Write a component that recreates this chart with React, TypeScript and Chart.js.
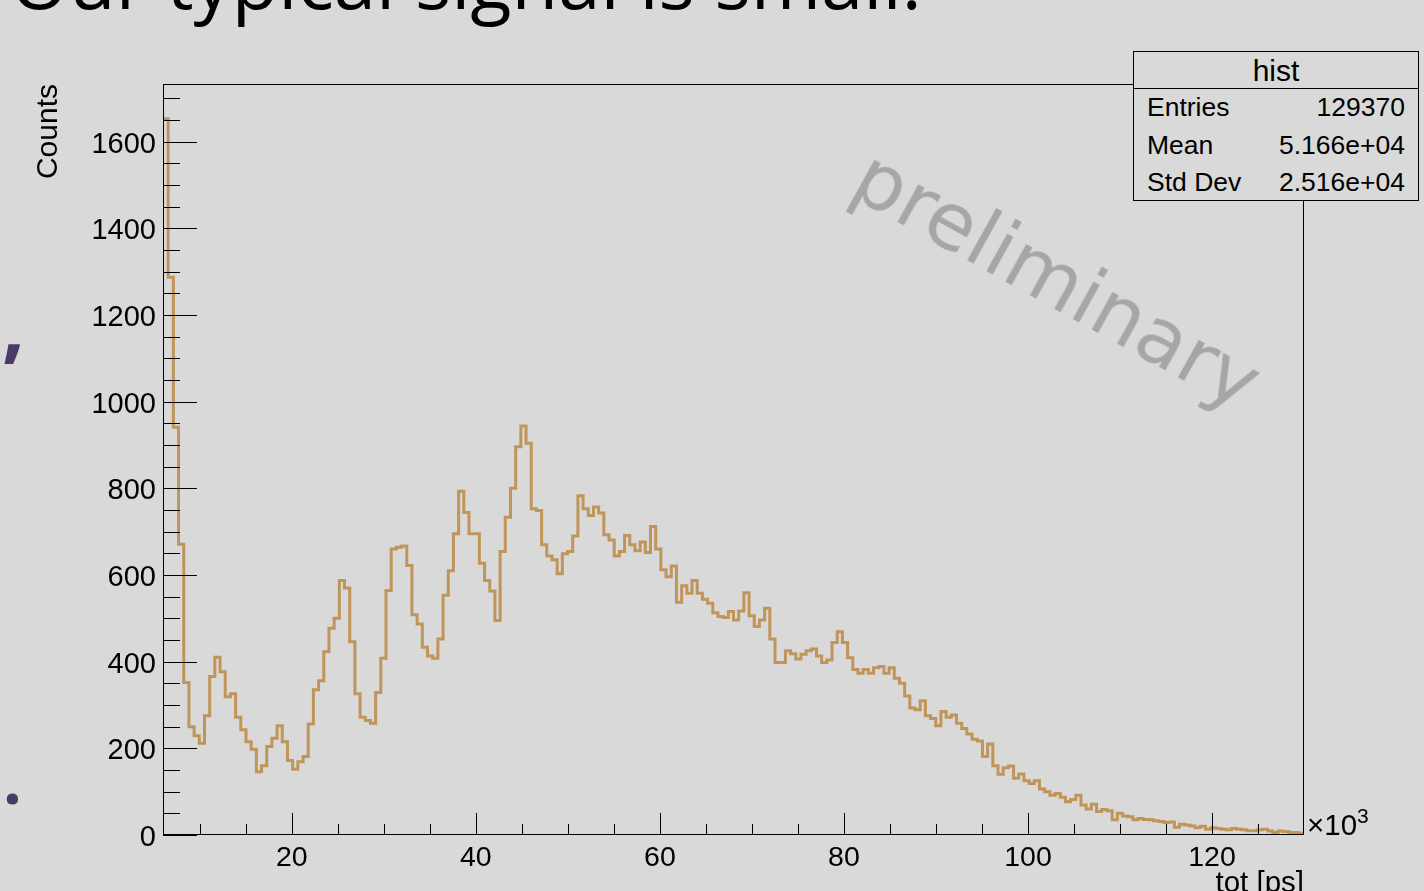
import React, { useEffect, useRef } from "react";
import { Chart, registerables } from "chart.js";

Chart.register(...registerables);

// ---- data ----
const X_MIN = 6; // ×10^3 ps
const X_MAX = 130;
const Y_MAX = 1733;

const counts: number[] = [
  1653, 1287, 941, 671, 352, 250, 229, 212, 275, 366,
  410, 377, 319, 326, 272, 243, 215, 198, 146, 160,
  204, 223, 252, 215, 172, 152, 169, 181, 256, 335,
  356, 423, 477, 500, 587, 570, 446, 326, 272, 264,
  258, 329, 408, 564, 660, 664, 667, 622, 508, 487,
  433, 413, 408, 452, 553, 610, 695, 793, 744, 695,
  695, 627, 587, 563, 495, 654, 733, 800, 896, 944,
  904, 753, 749, 670, 644, 635, 603, 649, 654, 690,
  783, 753, 737, 757, 743, 693, 681, 644, 654, 691,
  670, 656, 676, 652, 712, 660, 612, 596, 621, 537,
  575, 558, 587, 558, 544, 535, 513, 504, 502, 516,
  496, 517, 559, 506, 481, 496, 523, 452, 398, 398,
  425, 418, 406, 417, 425, 429, 413, 398, 404, 444,
  469, 444, 409, 382, 373, 382, 373, 386, 389, 373,
  386, 362, 350, 321, 293, 289, 310, 275, 269, 252,
  285, 272, 277, 258, 246, 233, 221, 217, 181, 210,
  160, 140, 155, 159, 131, 141, 125, 119, 125, 106,
  100, 92, 96, 87, 77, 82, 92, 69, 60, 71,
  54, 59, 56, 35, 50, 44, 42, 35, 38, 36,
  35, 33, 31, 29, 30, 18, 25, 23, 21, 17,
  20, 13, 17, 15, 13, 12, 15, 13, 12, 10,
  10, 12, 13, 9, 6, 9, 8, 6, 6, 4,
];

const xTickValues = [20, 40, 60, 80, 100, 120];
const yTickValues = [0, 200, 400, 600, 800, 1000, 1200, 1400, 1600];
const xMinorStep = 5;
const yMinorStep = 50;

const statsTitle = "hist";
const statsLabels = ["Entries", "Mean", "Std Dev"];
const statsValues = ["129370", "5.166e+04", "2.516e+04"];

const slideTitle = "Our typical signal is small.";
const xTitle = "tot [ps]";
const yTitle = "Counts";
const watermark = "preliminary";

// ---- styling ----
const BG = "#d9d9d9";
const LINE = "#c0955a";
const ROOT_FONT = "'Liberation Sans', Arial, Helvetica, sans-serif";
const CANVAS_W = 1424;
const CANVAS_H = 940;
const AREA_LEFT = 163;
const AREA_TOP = 84;
const AREA_RIGHT = 1304;
const AREA_BOTTOM = 835;

const rootFramePlugin = {
  id: "rootFrame",
  afterDatasetsDraw(chart: any) {
    const { ctx, chartArea: a, scales } = chart;
    const x = scales.x;
    const y = scales.y;
    ctx.save();
    ctx.strokeStyle = "#000";
    ctx.lineWidth = 1;
    ctx.beginPath();
    for (let v = 0; v <= Y_MAX; v += yMinorStep) {
      const py = Math.round(y.getPixelForValue(v)) + 0.5;
      const len = v % 200 === 0 ? 34 : 17;
      ctx.moveTo(a.left, py);
      ctx.lineTo(a.left + len, py);
    }
    for (let v = Math.ceil(X_MIN / xMinorStep) * xMinorStep; v < X_MAX; v += xMinorStep) {
      const px = Math.round(x.getPixelForValue(v)) + 0.5;
      const len = v % 20 === 0 ? 22 : 11;
      ctx.moveTo(px, a.bottom);
      ctx.lineTo(px, a.bottom - len);
    }
    ctx.stroke();
    ctx.strokeRect(a.left + 0.5, a.top + 0.5, a.right - a.left - 1, a.bottom - a.top - 1);
    ctx.restore();
  },
};

export default function App() {
  const canvasRef = useRef<HTMLCanvasElement | null>(null);

  useEffect(() => {
    const canvas = canvasRef.current;
    if (!canvas) return;
    const n = counts.length;
    const w = (X_MAX - X_MIN) / n;
    const points = counts.map((c, i) => ({ x: X_MIN + i * w, y: c }));
    points.push({ x: X_MAX, y: counts[n - 1] });

    const chart = new Chart(canvas, {
      type: "line",
      data: {
        datasets: [
          {
            label: "hist",
            data: points,
            borderColor: LINE,
            borderWidth: 3,
            stepped: "before",
            pointRadius: 0,
            fill: false,
            tension: 0,
          },
        ],
      },
      options: {
        animation: false,
        responsive: false,
        devicePixelRatio: 1,
        layout: {
          padding: { left: 0, top: AREA_TOP, right: CANVAS_W - AREA_RIGHT, bottom: 0 },
        },
        plugins: {
          legend: { display: false },
          tooltip: { enabled: false },
        },
        scales: {
          x: {
            type: "linear",
            min: X_MIN,
            max: X_MAX,
            afterBuildTicks: (s: any) => {
              s.ticks = xTickValues.map((value) => ({ value }));
            },
            afterFit: (s: any) => {
              s.height = CANVAS_H - AREA_BOTTOM;
            },
            ticks: {
              autoSkip: false,
              maxRotation: 0,
              minRotation: 0,
              padding: 6,
              color: "#000",
              font: { family: ROOT_FONT, size: 28.5 },
              callback: (v: any) => String(v),
            },
            grid: { display: false, drawTicks: false },
            border: { display: false },
            title: {
              display: true,
              text: xTitle,
              align: "end",
              color: "#000",
              font: { family: ROOT_FONT, size: 29.5 },
              padding: { top: 0, bottom: 38 },
            },
          },
          y: {
            type: "linear",
            min: 0,
            max: Y_MAX,
            afterBuildTicks: (s: any) => {
              s.ticks = yTickValues.map((value) => ({ value }));
            },
            afterFit: (s: any) => {
              s.width = AREA_LEFT;
            },
            ticks: {
              autoSkip: false,
              padding: 7,
              labelOffset: 3,
              color: "#000",
              font: { family: ROOT_FONT, size: 29 },
              callback: (v: any) => String(v),
            },
            grid: { display: false, drawTicks: false },
            border: { display: false },
            title: {
              display: true,
              text: yTitle,
              align: "end",
              color: "#000",
              font: { family: ROOT_FONT, size: 30 },
              padding: { top: 31, bottom: 0 },
            },
          },
        },
      },
      plugins: [rootFramePlugin],
    } as any);

    return () => chart.destroy();
  }, []);

  const rowTops = [42, 80, 117];

  return (
    <div
      style={{
        position: "fixed",
        left: 0,
        top: 0,
        width: 1424,
        height: 891,
        overflow: "hidden",
        background: BG,
      }}
    >
      <div
        style={{
          position: "absolute",
          left: 10,
          top: -58,
          fontFamily: "'Open Sans', sans-serif",
          fontSize: 76,
          lineHeight: 1,
          color: "#000",
          whiteSpace: "nowrap",
        }}
      >
        {slideTitle}
      </div>
      <div
        style={{
          position: "absolute",
          left: 2,
          top: 283,
          fontFamily: "'Open Sans', sans-serif",
          fontSize: 80,
          lineHeight: 1,
          fontWeight: 700,
          color: "#4b3a68",
        }}
      >
        ,
      </div>
      <div
        style={{
          position: "absolute",
          left: 3,
          top: 745,
          fontFamily: "'Open Sans', sans-serif",
          fontSize: 66,
          lineHeight: 1,
          fontWeight: 700,
          color: "#4b3a68",
        }}
      >
        .
      </div>
      <canvas
        ref={canvasRef}
        width={CANVAS_W}
        height={CANVAS_H}
        style={{ position: "absolute", left: 0, top: 0, width: CANVAS_W, height: CANVAS_H }}
      />
      <div
        style={{
          position: "absolute",
          left: 1057,
          top: 280,
          transform: "translate(-50%, -50%) rotate(29deg)",
          fontFamily: "'DejaVu Sans', sans-serif",
          fontSize: 79,
          lineHeight: 1,
          color: "#a6a6a6",
          whiteSpace: "nowrap",
        }}
      >
        {watermark}
      </div>
      <div
        style={{
          position: "absolute",
          left: 1307,
          top: 810,
          fontFamily: ROOT_FONT,
          fontSize: 29.5,
          lineHeight: 1,
          color: "#000",
          whiteSpace: "nowrap",
        }}
      >
        ×10
        <span style={{ fontSize: 21, position: "relative", top: -12 }}>3</span>
      </div>
      <div
        style={{
          position: "absolute",
          left: 1133,
          top: 51,
          width: 286,
          height: 150,
          boxSizing: "border-box",
          border: "1px solid #000",
          background: BG,
          fontFamily: ROOT_FONT,
          color: "#000",
        }}
      >
        <div
          style={{
            position: "absolute",
            left: 0,
            right: 0,
            top: 4,
            textAlign: "center",
            fontSize: 30,
            lineHeight: 1,
          }}
        >
          {statsTitle}
        </div>
        <div
          style={{
            position: "absolute",
            left: 0,
            right: 0,
            top: 36,
            borderTop: "1px solid #000",
          }}
        />
        {statsLabels.map((lab, i) => (
          <div
            key={lab}
            style={{
              position: "absolute",
              left: 13,
              right: 13,
              top: rowTops[i],
              display: "flex",
              justifyContent: "space-between",
              fontSize: 26.5,
              lineHeight: 1,
              whiteSpace: "nowrap",
            }}
          >
            <span>{lab}</span>
            <span>{statsValues[i]}</span>
          </div>
        ))}
      </div>
    </div>
  );
}
